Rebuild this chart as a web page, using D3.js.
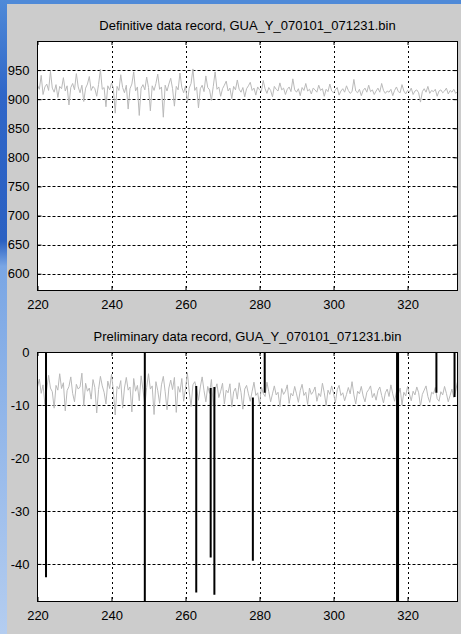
<!DOCTYPE html>
<html>
<head>
<meta charset="utf-8">
<script src="https://cdn.jsdelivr.net/npm/d3@7"></script>
<style>
html,body{margin:0;padding:0;background:#cccccc;}
svg{display:block;}
text{font-family:"Liberation Sans",Arial,sans-serif;font-size:13px;fill:#000;}
</style>
</head>
<body>
<svg id="chart" width="461" height="634"></svg>
<script>
// ---------- data ----------
const xTicks = [220, 240, 260, 280, 300, 320];
const topYTicks = [600, 650, 700, 750, 800, 850, 900, 950];
const botYTicks = [-40, -30, -20, -10, 0];
const topTitle = "Definitive data record, GUA_Y_070101_071231.bin";
const botTitle = "Preliminary data record, GUA_Y_070101_071231.bin";
const dayStart = 220, dayStep = 0.5;

const definitive = [
 924,917,941,908,921,926,915,948,919,912,
 925,903,922,918,937,914,923,890,920,927,
 916,944,921,911,924,896,919,926,939,915,
 922,918,905,925,951,917,920,887,923,916,
 928,919,876,922,915,942,920,911,924,883,
 918,926,947,914,921,872,919,925,916,938,
 920,880,923,915,927,943,917,921,869,924,
 914,926,936,918,888,922,916,945,920,911,
 923,894,919,927,952,915,921,885,918,924,
 913,940,920,916,898,922,947,917,921,905,
 918,924,931,914,919,901,922,916,933,917,
 912,920,904,918,923,929,915,919,907,921,
 916,913,932,918,910,920,915,904,922,917,
 914,928,916,919,908,917,921,913,935,916,
 912,918,906,920,915,927,914,917,909,919,
 916,912,924,915,918,905,917,913,926,914,
 911,916,920,907,914,918,912,923,915,910,
 913,934,914,911,917,906,915,919,912,924,
 913,916,908,914,919,912,927,915,910,914,
 912,917,906,915,921,913,911,925,914,909,
 915,912,919,908,914,916,911,895,913,918,
 912,922,910,915,913,917,905,914,916,911,
 914,919,909,915,912,917,910,913
];

const preliminary = [
 -6.6,-5.1,-7.8,-6.2,-9.9,-7.0,-4.4,-6.8,-7.5,-10.6,
 -6.3,-7.2,-4.1,-6.9,-5.8,-11.1,-7.3,-6.5,-4.7,-7.8,
 -9.4,-6.1,-7.0,-6.6,-4.0,-10.2,-5.9,-7.4,-6.8,-8.9,
 -5.2,-6.7,-11.5,-7.1,-4.6,-6.4,-7.6,-9.8,-5.5,-6.9,
 -4.2,-7.3,-11.9,-6.5,-7.0,-5.4,-10.6,-6.8,-4.8,-7.2,
 -6.6,-11.3,-5.0,-7.4,-6.3,-9.2,-4.5,-7.1,-10.1,-6.7,
 -4.1,-7.0,-6.4,-11.8,-5.6,-7.3,-9.7,-6.2,-4.6,-7.5,
 -10.9,-6.8,-5.3,-7.1,-4.8,-11.4,-6.5,-7.6,-5.0,-9.3,
 -6.9,-3.9,-7.4,-10.3,-6.2,-5.6,-7.0,-9.1,-6.6,-4.7,
 -7.3,-9.4,-6.5,-7.8,-5.2,-10.1,-7.1,-6.0,-8.6,-7.4,
 -5.9,-9.8,-7.2,-7.7,-6.0,-10.4,-7.5,-6.8,-8.9,-5.8,
 -7.6,-10.8,-7.0,-6.3,-7.9,-9.3,-7.4,-5.7,-8.2,-7.7,
 -10.0,-6.6,-7.8,-8.4,-5.7,-7.5,-9.4,-7.9,-6.4,-8.1,
 -7.6,-10.3,-6.9,-8.0,-7.4,-6.2,-9.7,-7.8,-8.3,-6.5,
 -7.9,-9.5,-7.3,-6.1,-8.2,-7.6,-9.9,-6.8,-8.0,-7.5,
 -6.6,-9.3,-7.8,-8.4,-5.9,-7.7,-10.1,-7.2,-8.0,-6.4,
 -7.8,-9.6,-7.1,-6.3,-8.2,-7.7,-9.2,-8.0,-6.7,-7.9,
 -5.6,-8.1,-9.8,-7.4,-7.9,-6.5,-8.3,-9.4,-7.6,-7.1,
 -6.4,-8.6,-7.8,-9.1,-7.3,-6.6,-8.2,-9.6,-7.7,-7.0,
 -8.4,-6.2,-7.9,-9.3,-7.5,-8.0,-6.8,-10.0,-7.6,-8.3,
 -6.5,-7.9,-9.2,-7.4,-8.1,-6.6,-7.7,-10.2,-8.0,-7.2,
 -6.4,-8.4,-9.5,-7.6,-7.9,-6.7,-8.8,-9.3,-7.5,-8.1,
 -6.5,-7.8,-9.4,-8.2,-7.0,-8.6,-7.4,-5.6
];

// spikes in the preliminary record
const spikeDays  = [222.3, 249.0, 262.9, 266.8, 267.8, 278.2, 281.4, 317.3, 327.8, 332.7];
const spikeFrom  = [0, 0, -6.4, -6.8, -6.6, -8.6, 0, 0, 0, 0];
const spikeTo    = [-42.5, -48, -45.4, -38.8, -45.8, -39.4, -7.7, -48, -7.7, -8.5];
const spikeWidth = [2, 2, 2, 2, 2, 2, 2, 3, 2, 2];

// ---------- drawing ----------
const svg = d3.select("#chart");

const defs = svg.append("defs");
const grad = defs.append("linearGradient").attr("id", "blueL").attr("x1", 0).attr("y1", 0).attr("x2", 0).attr("y2", 1);
grad.append("stop").attr("offset", "0%").attr("stop-color", "#4f8ad8");
grad.append("stop").attr("offset", "15%").attr("stop-color", "#2f66c8");
grad.append("stop").attr("offset", "38%").attr("stop-color", "#2a60c2");
grad.append("stop").attr("offset", "42%").attr("stop-color", "#7aa6e4");
grad.append("stop").attr("offset", "100%").attr("stop-color", "#b4cdf0");
svg.append("rect").attr("x", 0).attr("y", 0).attr("width", 461).attr("height", 634).attr("fill", "#cccccc");
svg.append("rect").attr("x", 0).attr("y", 0).attr("width", 461).attr("height", 4).attr("fill", "#4f8ad8");
svg.append("rect").attr("x", 0).attr("y", 0).attr("width", 7).attr("height", 634).attr("fill", "url(#blueL)");

const days = d3.range(definitive.length).map(i => dayStart + i * dayStep);
const x = d3.scaleLinear().domain([220, 333.5]).range([37.5, 457.5]);
const fmt = d => String(d);

function panel(id, top, bottom, yDomain, yTicks, title, series) {
  const y = d3.scaleLinear().domain(yDomain).range([bottom, top]);
  const g = svg.append("g");
  const L = x.range()[0], R = x.range()[1];
  g.append("rect").attr("x", L).attr("y", top).attr("width", R - L).attr("height", bottom - top).attr("fill", "#fff");

  g.selectAll(".vg").data(xTicks.filter(t => t > 220)).join("line")
    .attr("x1", d => Math.round(x(d)) + 0.5).attr("x2", d => Math.round(x(d)) + 0.5)
    .attr("y1", top).attr("y2", bottom)
    .attr("stroke", "#000").attr("stroke-width", 1).attr("stroke-dasharray", "2,3");
  g.selectAll(".hg").data(yTicks).join("line")
    .attr("x1", L).attr("x2", R)
    .attr("y1", d => Math.round(y(d)) + 0.5).attr("y2", d => Math.round(y(d)) + 0.5)
    .attr("stroke", "#000").attr("stroke-width", 1).attr("stroke-dasharray", "3,2");

  defs.append("clipPath").attr("id", "clip" + id).append("rect")
    .attr("x", L).attr("y", top).attr("width", R - L).attr("height", bottom - top);
  const plot = g.append("g").attr("clip-path", `url(#clip${id})`);
  const line = d3.line().x((d, i) => x(days[i])).y(d => y(d));
  plot.append("path").datum(series).attr("d", line)
    .attr("fill", "none").attr("stroke", "#b9b9b9").attr("stroke-width", 1);

  g.append("g").attr("transform", `translate(0,${bottom})`)
    .call(d3.axisBottom(x).tickValues(xTicks).tickSize(-4).tickPadding(10).tickFormat(fmt));
  g.append("g").attr("transform", `translate(0,${top})`)
    .call(d3.axisTop(x).tickValues(xTicks).tickSize(-4).tickFormat(""));
  g.append("g").attr("transform", `translate(${L},0)`)
    .call(d3.axisLeft(y).tickValues(yTicks).tickSize(-4).tickPadding(8).tickFormat(fmt));
  g.append("g").attr("transform", `translate(${R},0)`)
    .call(d3.axisRight(y).tickValues(yTicks).tickSize(-4).tickFormat(""));
  g.selectAll(".domain").remove();
  g.selectAll(".tick line").attr("stroke", "#000");
  g.selectAll(".tick text").attr("font-size", 13).attr("font-family", '"Liberation Sans",Arial,sans-serif').attr("fill", "#000");
  g.append("rect").attr("x", L).attr("y", top + 0.5).attr("width", R - L).attr("height", bottom - top)
    .attr("fill", "none").attr("stroke", "#000").attr("stroke-width", 1);

  svg.append("text").attr("x", (L + R) / 2).attr("y", top - 11).attr("text-anchor", "middle").text(title);
  return { y, plot };
}

panel("top", 41, 290, [572, 1000], topYTicks, topTitle, definitive);
const bot = panel("bot", 352, 601, [-47, 0], botYTicks, botTitle, preliminary);

bot.plot.selectAll(".spike").data(spikeDays).join("line")
  .attr("x1", d => x(d)).attr("x2", d => x(d))
  .attr("y1", (d, i) => bot.y(spikeFrom[i])).attr("y2", (d, i) => bot.y(spikeTo[i]))
  .attr("stroke", "#000").attr("stroke-width", (d, i) => spikeWidth[i]);
</script>
</body>
</html>
